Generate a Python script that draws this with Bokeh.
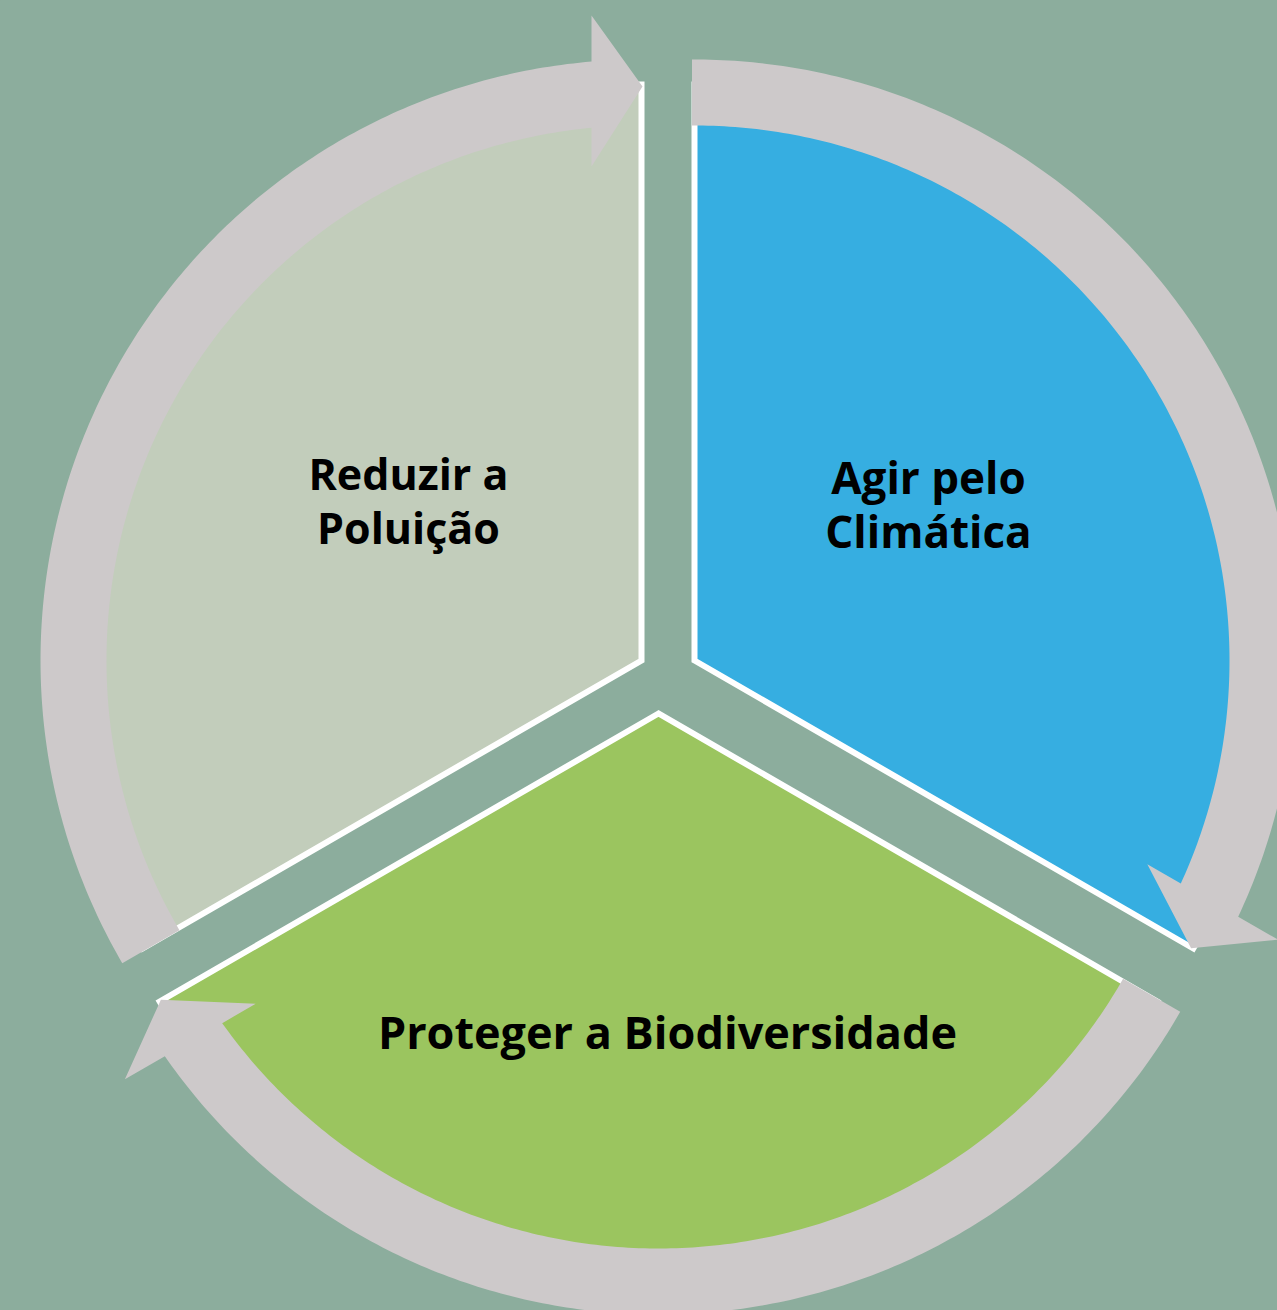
import numpy as np
from bokeh.plotting import figure
from bokeh.models import Range1d
from bokeh.core.properties import value
from bokeh.embed import file_html
from bokeh.resources import INLINE

# ---------------- data ----------------
# themes in clockwise order starting at 12 o'clock
themes = ["Agir pelo Climática", "Proteger a Biodiversidade", "Reduzir a Poluição"]
label_lines = [["Agir pelo", "Climática"], ["Proteger a Biodiversidade"], ["Reduzir a", "Poluição"]]
shares = [1, 1, 1]
fill_colors = ["#36AEE1", "#9BC55F", "#C2CDBB"]

# ---------------- layout / style ----------------
BG = "#8CAD9D"
RING = "#CDC9CA"
PAGE_W, PAGE_H = 1277, 1310
W, H = 1277, 1310
centers_px = [(694, 660), (658, 713), (641, 660)]   # exploded sector hubs (page pixels)
label_px = [(928, 503), (667, 1031), (408, 500)]
font_sizes = ["44px", "45px", "43px"]
LINE_PITCH = 54
R_SECTOR = 576
R_IN, R_OUT = 535, 601
HEAD_OFF = 50
S_HEAD_IN, S_HEAD_OUT = 494, 645
TIP_R = 574
START_OFF = 2.5


def to_data(px, py):
    return px, PAGE_H - py


p = figure(width=W, height=H, x_range=Range1d(0, PAGE_W), y_range=Range1d(0, PAGE_H),
           output_backend="svg", toolbar_location=None, min_border=0,
           x_axis_location=None, y_axis_location=None,
           background_fill_color=BG, border_fill_color=BG, outline_line_color=None)
p.grid.visible = False

total = float(sum(shares))
hi = 90.0
geoms = []
for i, s in enumerate(shares):
    lo = hi - s * 360.0 / total
    geoms.append((lo, hi))
    hi = lo

# sectors
for i, (lo, hi) in enumerate(geoms):
    cx, cy = to_data(*centers_px[i])
    a = np.radians(np.linspace(lo, hi, 200))
    xs = np.concatenate([[cx], cx + R_SECTOR * np.cos(a)])
    ys = np.concatenate([[cy], cy + R_SECTOR * np.sin(a)])
    p.patch(xs, ys, fill_color=fill_colors[i], line_color="white", line_width=6, line_join="miter")

# circular arrows
for i, (lo, hi) in enumerate(geoms):
    cx, cy = to_data(*centers_px[i])
    c = np.array([cx, cy])
    lr = np.radians(lo)
    hr = np.radians(hi)
    u = np.array([np.cos(lr), np.sin(lr)])
    n = np.array([-np.sin(lr), np.cos(lr)])
    a_out = np.linspace(hr + np.arcsin(START_OFF / R_OUT), lr + np.arcsin(HEAD_OFF / R_OUT), 200)
    a_in = np.linspace(lr + np.arcsin(HEAD_OFF / R_IN), hr + np.arcsin(START_OFF / R_IN), 200)
    head_o = c + u * S_HEAD_OUT + n * HEAD_OFF
    tip = c + u * TIP_R - n * 1.0
    head_i = c + u * S_HEAD_IN + n * HEAD_OFF
    xs = np.concatenate([cx + R_OUT * np.cos(a_out), [head_o[0], tip[0], head_i[0]], cx + R_IN * np.cos(a_in)])
    ys = np.concatenate([cy + R_OUT * np.sin(a_out), [head_o[1], tip[1], head_i[1]], cy + R_IN * np.sin(a_in)])
    p.patch(xs, ys, fill_color=RING, line_color=None)

# labels
for i, lines in enumerate(label_lines):
    lx, ly = label_px[i]
    nlines = len(lines)
    xs, ys = [], []
    for k, line in enumerate(lines):
        y_px = ly - (nlines - 1) / 2.0 * LINE_PITCH + k * LINE_PITCH
        dx, dy = to_data(lx, y_px)
        xs.append(dx)
        ys.append(dy)
    p.text(x=xs, y=ys, text=lines, text_align="center", text_baseline="middle",
           text_font=value("Open Sans"), text_font_style="bold", text_font_size=font_sizes[i],
           text_color="#000000")

html = file_html(p, INLINE)
html = html.replace("</head>", "<style>body{background:%s;}</style></head>" % BG, 1)
open("out.html", "w").write(html)
